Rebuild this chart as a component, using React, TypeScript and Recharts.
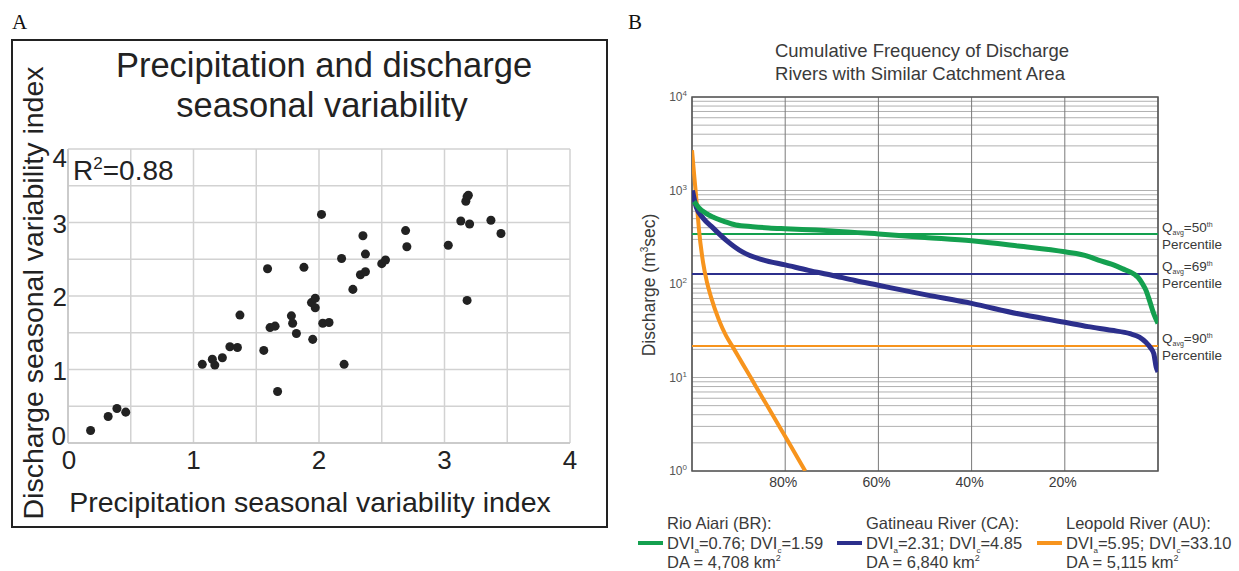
import React from 'react';
import {
  ScatterChart, Scatter, XAxis, YAxis, CartesianGrid,
  LineChart, Line, ReferenceLine, ReferenceArea,
} from 'recharts';

// ---------- Panel A data ----------
const precipIndex = [0.18, 0.32, 0.39, 0.46, 1.07, 1.15, 1.17, 1.23, 1.29, 1.35, 1.37, 1.56, 1.59, 1.61, 1.65, 1.67, 1.78, 1.79, 1.82, 1.88, 1.94, 1.95, 1.97, 1.97, 2.02, 2.03, 2.08, 2.18, 2.20, 2.27, 2.33, 2.35, 2.37, 2.37, 2.50, 2.53, 2.69, 2.70, 3.03, 3.13, 3.17, 3.18, 3.19, 3.18, 3.20, 3.37, 3.45];
const dischargeIndex = [0.17, 0.36, 0.47, 0.42, 1.07, 1.14, 1.06, 1.16, 1.31, 1.30, 1.74, 1.26, 2.37, 1.57, 1.59, 0.70, 1.73, 1.63, 1.49, 2.39, 1.91, 1.41, 1.97, 1.84, 3.11, 1.63, 1.64, 2.51, 1.07, 2.09, 2.29, 2.82, 2.57, 2.33, 2.44, 2.49, 2.89, 2.67, 2.69, 3.02, 3.29, 3.35, 3.37, 1.94, 2.98, 3.03, 2.85];
const gridTicksA = [0, 0.5, 1, 1.5, 2, 2.5, 3, 3.5, 4];

// ---------- Panel B data ----------
const rioAiariP = [99.6, 99, 98.5, 97, 95.5, 93, 90.6, 87, 83.5, 80, 73.4, 70, 60, 50, 40, 30, 20, 15, 12.8, 10, 7.7, 5, 4.3, 3.3, 2.6, 1.8, 0.9, 0];
const rioAiariQ = [760, 700, 650, 570, 520, 465, 427, 410, 398, 390, 377, 370, 343, 315, 290, 255, 221, 198, 180, 163, 146, 126, 118, 100, 86, 66, 48, 38];
const gatineauP = [99.9, 99.1, 97.6, 95.5, 92.7, 89.1, 84.8, 80, 75, 70, 65, 60, 50, 40, 30, 20, 15, 10, 6, 4, 2.6, 1.5, 0.9, 0.4, 0];
const gatineauQ = [1000, 665, 505, 398, 295, 219, 181, 160, 140, 124, 109, 97, 77, 62, 48, 39, 35, 32, 29.4, 27, 23.8, 20.5, 18, 13, 11.5];
const leopoldP = [100, 99.5, 99.1, 98.8, 98.5, 97.6, 96.8, 95.9, 94.2, 92.7, 91.2, 89.1, 87.3, 85.6, 82.6, 79.8, 78, 75.7];
const leopoldQ = [2700, 1400, 850, 570, 380, 167, 105, 72, 41, 28, 21, 13.9, 9.8, 7.0, 3.9, 2.25, 1.58, 1];
const qAvgRio = 343;
const qAvgGatineau = 128;
const qAvgLeopold = 21.7;
const percentTicks = [0, 20, 40, 60, 80, 100];
const logTicks = [1, 2, 3, 4, 5, 6, 7, 8, 9, 10, 20, 30, 40, 50, 60, 70, 80, 90, 100, 200, 300, 400, 500, 600, 700, 800, 900, 1000, 2000, 3000, 4000, 5000, 6000, 7000, 8000, 9000, 10000];
const decadeLabels: Record<number, string> = { 1: '0', 10: '1', 100: '2', 1000: '3', 10000: '4' };

const scatterData = precipIndex.map((x, i) => ({ x, y: dischargeIndex[i] }));
const rioAiari = rioAiariP.map((p, i) => ({ p, q: rioAiariQ[i] }));
const gatineau = gatineauP.map((p, i) => ({ p, q: gatineauQ[i] }));
const leopold = leopoldP.map((p, i) => ({ p, q: leopoldQ[i] }));

const FONT = "'Liberation Sans', Arial, Helvetica, sans-serif";
const SERIF = "'Liberation Serif', 'Times New Roman', serif";
const GREEN = '#14a04f';
const BLUE = '#2c2f8c';
const ORANGE = '#f7941d';
const TXT = '#222';
const TXTB = '#3a3a3a';

const AXTick = (props: any) => {
  const { x, y, payload } = props;
  const v = payload.value;
  if (!Number.isInteger(v)) return <g />;
  return (
    <text x={x + (v === 0 ? 1 : 0)} y={y} dy="0.71em" textAnchor="middle" fontSize={26} fill={TXT} fontFamily={FONT}>{v}</text>
  );
};

const AYTick = (props: any) => {
  const { x, y, payload } = props;
  const v = payload.value;
  if (!Number.isInteger(v)) return <g />;
  const shift = v === 4 ? 9 : v === 0 ? -7 : 1;
  return (
    <text x={x - (v === 0 ? 1 : 0)} y={y + shift} dy="0.355em" textAnchor="end" fontSize={26} fill={TXT} fontFamily={FONT}>{v}</text>
  );
};

const BXTick = (props: any) => {
  const { x, y, payload } = props;
  const v = payload.value;
  if (v === 0 || v === 100) return <g />;
  return (
    <text x={x - 2} y={y} dy="0.71em" textAnchor="middle" fontSize={14} fill={TXTB} fontFamily={FONT}>{v + '%'}</text>
  );
};

const BYTick = (props: any) => {
  const { x, y, payload } = props;
  const e = decadeLabels[payload.value];
  if (e === undefined) return <g />;
  return (
    <text x={x} y={y} dy="0.35em" textAnchor="end" fontSize={12} fill="#555" fontFamily={FONT}>
      10<tspan fontSize={8} dy={-5}>{e}</tspan>
    </text>
  );
};

const QLabel = ({ y, pct }: { y: number; pct: string }) => (
  <g fontFamily={FONT} fill={TXTB}>
    <text x={1162} y={y} fontSize={13.5}>
      Q<tspan fontSize={7} dy={3}>avg</tspan><tspan dy={-3}>={pct}</tspan><tspan fontSize={7} dy={-5}>th</tspan>
    </text>
    <text x={1162} y={y + 17} fontSize={13.5}>Percentile</text>
  </g>
);

const LegendEntry = ({ x, color, name, a, c, da }: { x: number; color: string; name: string; a: string; c: string; da: string }) => (
  <g fontFamily={FONT} fill={TXTB} fontSize={16.5}>
    <line x1={x - 29} x2={x - 4} y1={543} y2={543} stroke={color} strokeWidth={4} />
    <text x={x} y={529}>{name}</text>
    <text x={x} y={549}>
      DVI<tspan fontSize={8} dy={4}>a</tspan><tspan dy={-4}>={a}; DVI</tspan><tspan fontSize={8} dy={4}>c</tspan><tspan dy={-4}>={c}</tspan>
    </text>
    <text x={x} y={568}>
      DA = {da} km<tspan fontSize={9} dy={-7}>2</tspan>
    </text>
  </g>
);

export default function App() {
  return (
    <div style={{ position: 'absolute', left: 0, top: 0, width: 1239, height: 571, background: '#fff', overflow: 'hidden' }}>
      {/* Panel A frame */}
      <div style={{ position: 'absolute', left: 11, top: 39, width: 597, height: 489, border: '2px solid #222', boxSizing: 'border-box' }} />

      {/* Panel A chart */}
      <div style={{ position: 'absolute', left: 0, top: 0 }}>
        <ScatterChart width={620} height={500} margin={{ top: 149, right: 50, bottom: 27, left: 28 }}>
          <CartesianGrid stroke="#d2d2d2" strokeWidth={1.5} />
          <XAxis type="number" dataKey="x" domain={[0, 4]} ticks={gridTicksA} interval={0}
            tick={<AXTick />} tickLine={false} tickSize={8} tickMargin={0}
            axisLine={{ stroke: '#c4c4c4', strokeWidth: 1.5 }} height={30} />
          <YAxis type="number" dataKey="y" domain={[0, 4]} ticks={gridTicksA} interval={0}
            tick={<AYTick />} tickLine={false} tickSize={0} tickMargin={1}
            axisLine={{ stroke: '#c4c4c4', strokeWidth: 1.5 }} width={40} />
          <Scatter data={scatterData} fill="#222" isAnimationActive={false} />
        </ScatterChart>
      </div>

      {/* Panel B chart */}
      <div style={{ position: 'absolute', left: 620, top: 0 }}>
        <LineChart width={619} height={500} margin={{ top: 97, right: 81, bottom: 4, left: 22 }}>
          <CartesianGrid vertical={false} stroke="#b0b0b0" strokeWidth={1} />
          <CartesianGrid horizontal={false} stroke="#7a7a7a" strokeWidth={1} />
          <XAxis type="number" dataKey="p" domain={[0, 100]} reversed ticks={percentTicks} interval={0}
            tick={<BXTick />} tickLine={false} tickSize={0} tickMargin={6} axisLine={false}
            height={25} allowDataOverflow />
          <YAxis type="number" scale="log" domain={[1, 10000]} ticks={logTicks} interval={0}
            tick={<BYTick />} tickLine={false} tickSize={0} tickMargin={5} axisLine={false}
            width={50} allowDataOverflow />
          <ReferenceArea x1={0} x2={100} y1={1} y2={10000} fill="none" stroke="#555" strokeWidth={1.5} fillOpacity={0} ifOverflow="visible" />
          <ReferenceLine y={qAvgRio} stroke={GREEN} strokeWidth={2} />
          <ReferenceLine y={qAvgGatineau} stroke={BLUE} strokeWidth={2} />
          <ReferenceLine y={qAvgLeopold} stroke={ORANGE} strokeWidth={2} />
          <Line data={leopold} dataKey="q" type="monotone" stroke={ORANGE} strokeWidth={4} dot={false} isAnimationActive={false} />
          <Line data={gatineau} dataKey="q" type="monotone" stroke={BLUE} strokeWidth={5} dot={false} isAnimationActive={false} />
          <Line data={rioAiari} dataKey="q" type="monotone" stroke={GREEN} strokeWidth={5} dot={false} isAnimationActive={false} />
        </LineChart>
      </div>

      {/* Text overlay */}
      <svg width={1239} height={571} style={{ position: 'absolute', left: 0, top: 0, pointerEvents: 'none' }}>
        <defs>
          <clipPath id="titleClipA">
            <rect x={0} y={0} width={620} height={121} />
          </clipPath>
        </defs>
        {/* Panel A texts */}
        <text x={12} y={29} fontFamily={SERIF} fontSize={21} fill="#111">A</text>
        <g clipPath="url(#titleClipA)" fontFamily={FONT} fill={TXT} fontSize={34.5} textAnchor="middle">
          <text x={324} y={77}>Precipitation and discharge</text>
          <text x={322} y={117}>seasonal variability</text>
        </g>
        <text x={73} y={180} fontFamily={FONT} fontSize={28} fill={TXT}>
          R<tspan fontSize={17} dy={-11}>2</tspan><tspan dy={11}>=0.88</tspan>
        </text>
        <text x={43} y={293} transform="rotate(-90 43 293)" textAnchor="middle" fontFamily={FONT} fontSize={28.5} fill={TXT}>
          Discharge seasonal variability index
        </text>
        <text x={310} y={512} textAnchor="middle" fontFamily={FONT} fontSize={28.5} fill={TXT}>
          Precipitation seasonal variability index
        </text>

        {/* Panel B texts */}
        <text x={628} y={29} fontFamily={SERIF} fontSize={21} fill="#111">B</text>
        <g fontFamily={FONT} fill={TXTB} fontSize={18.5} textAnchor="middle">
          <text x={922} y={57}>Cumulative Frequency of Discharge</text>
          <text x={920} y={80}>Rivers with Similar Catchment Area</text>
        </g>
        <text x={655} y={285} transform="rotate(-90 655 285)" textAnchor="middle" fontFamily={FONT} fontSize={17.5} fill={TXTB}>
          Discharge (m<tspan fontSize={10} dy={-7}>3</tspan><tspan dy={7}>sec)</tspan>
        </text>
        <QLabel y={232} pct="50" />
        <QLabel y={271} pct="69" />
        <QLabel y={343} pct="90" />

        <LegendEntry x={667} color={GREEN} name="Rio Aiari (BR):" a="0.76" c="1.59" da="4,708" />
        <LegendEntry x={866} color={BLUE} name="Gatineau River (CA):" a="2.31" c="4.85" da="6,840" />
        <LegendEntry x={1066} color={ORANGE} name="Leopold River (AU):" a="5.95" c="33.10" da="5,115" />
      </svg>
    </div>
  );
}
